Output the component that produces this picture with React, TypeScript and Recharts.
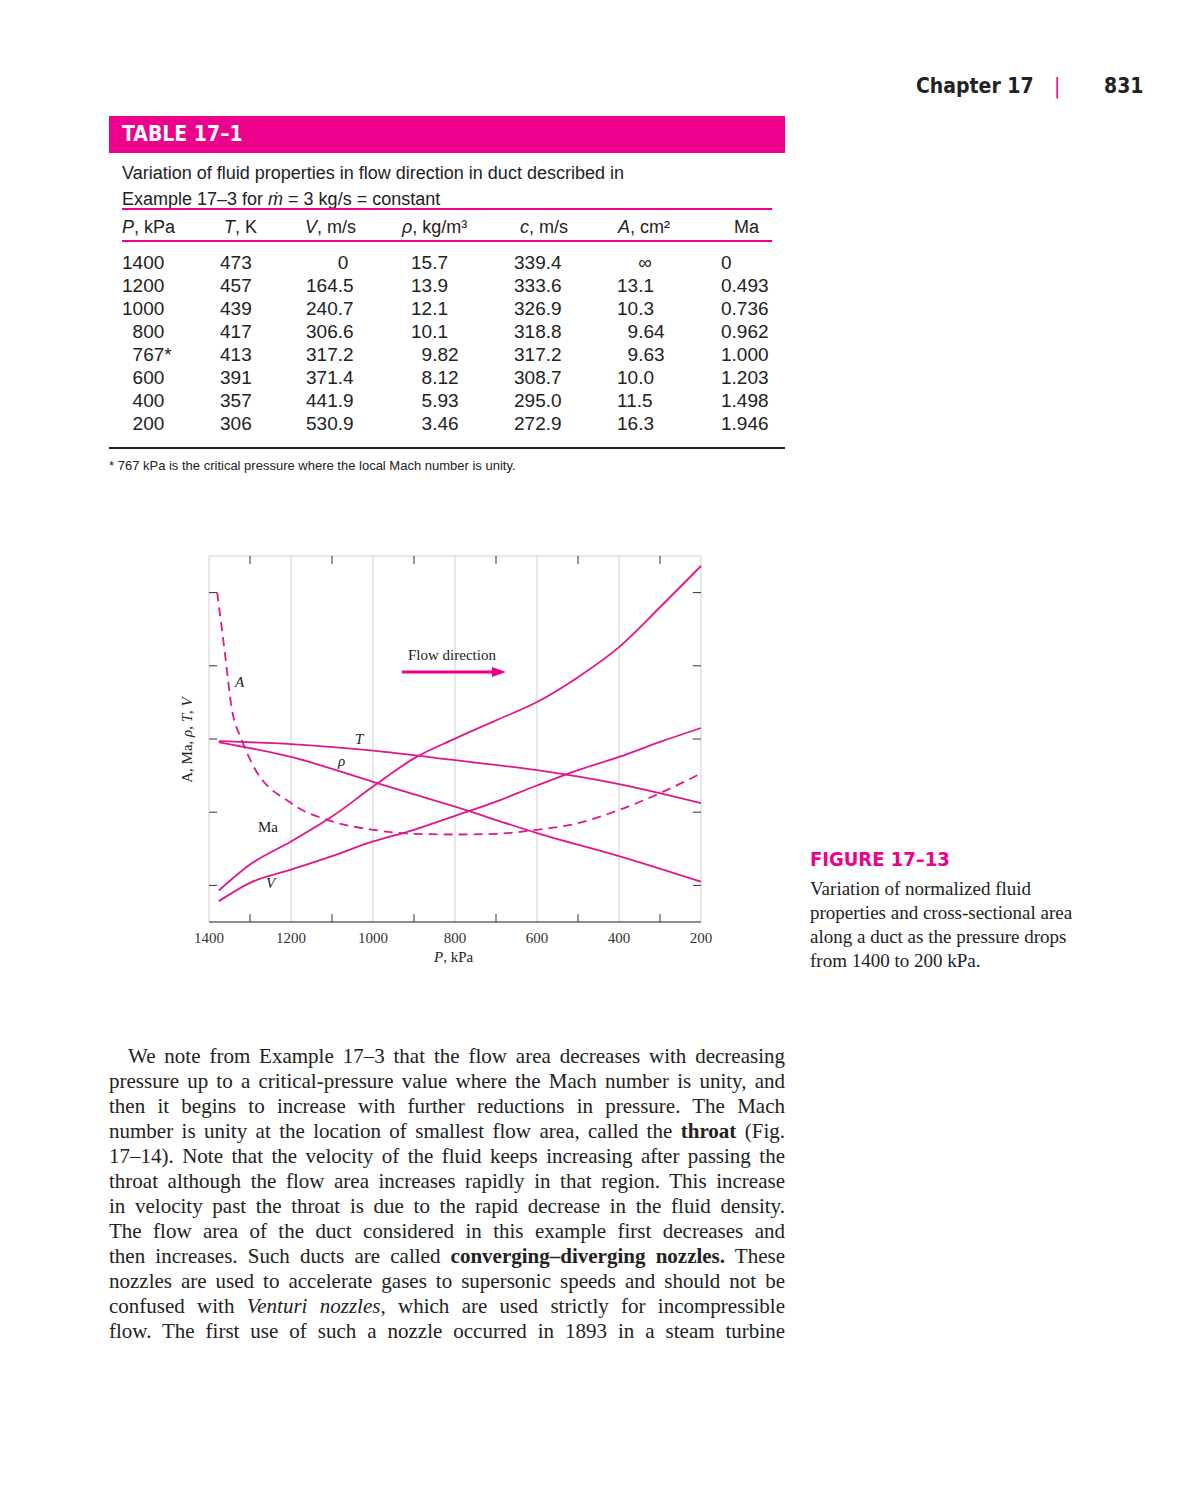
import React from "react";
import { LineChart, Line, XAxis, YAxis, CartesianGrid, ReferenceLine } from "recharts";

const PINK = "#EC008C";
const LINE = "#E0168C";

// table 17-1
const tableHeaders = ["P, kPa", "T, K", "V, m/s", "ρ, kg/m³", "c, m/s", "A, cm²", "Ma"];
const colPressure = ["1400", "1200", "1000", "\u2007800", "\u2007767*", "\u2007600", "\u2007400", "\u2007200"];
const colTemp = ["473", "457", "439", "417", "413", "391", "357", "306"];
const colVel = ["\u2007\u2007\u20070", "164.5", "240.7", "306.6", "317.2", "371.4", "441.9", "530.9"];
const colDensity = ["15.7", "13.9", "12.1", "10.1", "\u20079.82", "\u20078.12", "\u20075.93", "\u20073.46"];
const colSound = ["339.4", "333.6", "326.9", "318.8", "317.2", "308.7", "295.0", "272.9"];
const colArea = ["\u2007\u2007∞", "13.1", "10.3", "\u20079.64", "\u20079.63", "10.0", "11.5", "16.3"];
const colMach = ["0", "0.493", "0.736", "0.962", "1.000", "1.203", "1.498", "1.946"];
const colLeft = [122, 220, 306, 411, 514, 617, 721];
const headerLeft = [122, 224, 305, 402, 520, 618, 734];

// figure 17-13, normalized values
const xTicks = [1400, 1200, 1000, 800, 600, 400, 200];
const yGrid = [0, 2, 4, 6, 8, 10];
const minorX = [1300, 1100, 900, 700, 500, 300];
const minorY = [1, 3, 5, 7, 9];

const machPts = [
  { p: 1376, v: 0.86 }, { p: 1300, v: 1.57 }, { p: 1200, v: 2.2 }, { p: 1100, v: 2.88 },
  { p: 1000, v: 3.7 }, { p: 900, v: 4.47 }, { p: 800, v: 5.01 }, { p: 700, v: 5.51 },
  { p: 600, v: 6.01 }, { p: 500, v: 6.69 }, { p: 400, v: 7.51 }, { p: 300, v: 8.6 }, { p: 200, v: 9.73 },
];
const velPts = [
  { p: 1376, v: 0.57 }, { p: 1300, v: 1.07 }, { p: 1200, v: 1.43 }, { p: 1100, v: 1.8 },
  { p: 1000, v: 2.2 }, { p: 900, v: 2.52 }, { p: 800, v: 2.9 }, { p: 700, v: 3.29 },
  { p: 600, v: 3.73 }, { p: 500, v: 4.15 }, { p: 400, v: 4.51 }, { p: 300, v: 4.92 }, { p: 200, v: 5.3 },
];
const tempPts = [
  { p: 1376, v: 4.94 }, { p: 1200, v: 4.86 }, { p: 1000, v: 4.68 }, { p: 800, v: 4.42 },
  { p: 600, v: 4.15 }, { p: 400, v: 3.77 }, { p: 200, v: 3.25 },
];
const rhoPts = [
  { p: 1376, v: 4.91 }, { p: 1200, v: 4.51 }, { p: 1000, v: 3.83 }, { p: 800, v: 3.15 },
  { p: 600, v: 2.43 }, { p: 400, v: 1.8 }, { p: 200, v: 1.1 },
];
const areaPts = [
  { p: 1380, v: 9.0 }, { p: 1362, v: 7.42 }, { p: 1345, v: 5.87 }, { p: 1320, v: 4.97 },
  { p: 1295, v: 4.33 }, { p: 1200, v: 3.25 }, { p: 1100, v: 2.75 }, { p: 1000, v: 2.52 },
  { p: 900, v: 2.41 }, { p: 800, v: 2.39 }, { p: 700, v: 2.41 }, { p: 600, v: 2.52 },
  { p: 500, v: 2.7 }, { p: 400, v: 3.06 }, { p: 300, v: 3.52 }, { p: 200, v: 4.06 },
];

const bodyLines = [
  "We note from Example 17–3 that the flow area decreases with decreasing",
  "pressure up to a critical-pressure value where the Mach number is unity, and",
  "then it begins to increase with further reductions in pressure. The Mach",
  "number is unity at the location of smallest flow area, called the <b>throat</b> (Fig.",
  "17–14). Note that the velocity of the fluid keeps increasing after passing the",
  "throat although the flow area increases rapidly in that region. This increase",
  "in velocity past the throat is due to the rapid decrease in the fluid density.",
  "The flow area of the duct considered in this example first decreases and",
  "then increases. Such ducts are called <b>converging–diverging nozzles.</b> These",
  "nozzles are used to accelerate gases to supersonic speeds and should not be",
  "confused with <i>Venturi nozzles,</i> which are used strictly for incompressible",
  "flow. The first use of such a nozzle occurred in 1893 in a steam turbine",
];

const captionLines = [
  "Variation of normalized fluid",
  "properties and cross-sectional area",
  "along a duct as the pressure drops",
  "from 1400 to 200 kPa.",
];

const sans = "'Liberation Sans', Arial, sans-serif";
const cond = "'DejaVu Sans Condensed', 'Liberation Sans Narrow', sans-serif";
const serif = "'Liberation Serif', 'Times New Roman', serif";

const abs = (left: number, top: number, extra: React.CSSProperties = {}): React.CSSProperties => ({
  position: "absolute", left, top, whiteSpace: "nowrap", ...extra,
});

function Header(h: string) {
  const [sym, rest] = [h.split(",")[0], h.slice(h.indexOf(","))];
  return (
    <>
      {sym === "Ma" ? "Ma" : <i>{sym}</i>}
      {sym === "Ma" ? "" : rest}
    </>
  );
}

function Chart() {
  const series = [
    { id: "ma", data: machPts, dash: undefined },
    { id: "v", data: velPts, dash: undefined },
    { id: "t", data: tempPts, dash: undefined },
    { id: "rho", data: rhoPts, dash: undefined },
    { id: "a", data: areaPts, dash: "9 6" },
  ];
  return (
    <div style={abs(150, 540)}>
      <LineChart width={600} height={450} margin={{ top: 16, right: 49, left: 59, bottom: 38 }}>
        <CartesianGrid stroke="#cfcfcf" verticalPoints={undefined} />
        <XAxis
          dataKey="p" type="number" domain={[200, 1400]} reversed ticks={xTicks} allowDuplicatedCategory={false}
          tickLine={false} axisLine={{ stroke: "#333" }} height={30}
          tick={{ fill: "#333", fontSize: 15, fontFamily: serif }} tickMargin={4}
        />
        <XAxis xAxisId="top" orientation="top" type="number" domain={[200, 1400]} reversed tick={false} tickLine={false} axisLine={{ stroke: "#333" }} height={0} />
        <YAxis type="number" domain={[0, 10]} ticks={yGrid} tick={false} tickLine={false} axisLine={{ stroke: "#333" }} width={0} />
        <YAxis yAxisId="right" orientation="right" type="number" domain={[0, 10]} tick={false} tickLine={false} axisLine={{ stroke: "#333" }} width={0} />
        {minorX.map((x) => (
          <ReferenceLine key={"b" + x} segment={[{ x, y: 0 }, { x, y: 0.22 }]} stroke="#333" ifOverflow="visible" />
        ))}
        {minorX.map((x) => (
          <ReferenceLine key={"t" + x} segment={[{ x, y: 10 }, { x, y: 9.78 }]} stroke="#333" ifOverflow="visible" />
        ))}
        {minorY.map((y) => (
          <ReferenceLine key={"l" + y} segment={[{ x: 1400, y }, { x: 1380, y }]} stroke="#333" ifOverflow="visible" />
        ))}
        {minorY.map((y) => (
          <ReferenceLine key={"r" + y} segment={[{ x: 200, y }, { x: 220, y }]} stroke="#333" ifOverflow="visible" />
        ))}
        {series.map((s) => (
          <Line
            key={s.id} data={s.data} dataKey="v" type="monotone" stroke={LINE} strokeWidth={1.8}
            strokeDasharray={s.dash} dot={false} isAnimationActive={false}
          />
        ))}
      </LineChart>
    </div>
  );
}

export default function App() {
  const rows = [colPressure, colTemp, colVel, colDensity, colSound, colArea, colMach];
  const label = (t: React.ReactNode, left: number, top: number, italic = true) => (
    <div style={abs(left, top, { fontFamily: serif, fontSize: 15, fontStyle: italic ? "italic" : "normal", color: "#222" })}>{t}</div>
  );
  return (
    <div style={{ position: "absolute", left: 0, top: 0, width: 1191, height: 1503, background: "#fff", color: "#222" }}>
      <div style={abs(916, 74, { fontFamily: cond, fontWeight: "bold", fontSize: 21 })}>Chapter 17</div>
      <div style={abs(1054, 74, { fontFamily: cond, fontSize: 21, color: PINK })}>|</div>
      <div style={abs(1104, 74, { fontFamily: cond, fontWeight: "bold", fontSize: 21 })}>831</div>

      <div style={abs(109, 116, { width: 676, height: 37, background: PINK })} />
      <div style={abs(122, 122, { fontFamily: cond, fontWeight: "bold", fontSize: 21, color: "#fff" })}>TABLE 17–1</div>
      <div style={abs(122, 160, { fontFamily: sans, fontSize: 18, lineHeight: "26px" })}>
        Variation of fluid properties in flow direction in duct described in<br />
        Example 17–3 for <i>ṁ</i> = 3 kg/s = constant
      </div>
      <div style={abs(122, 208, { width: 650, height: 2, background: PINK })} />
      {tableHeaders.map((h, i) => (
        <div key={h} style={abs(headerLeft[i], 217, { fontFamily: sans, fontSize: 18 })}>{Header(h)}</div>
      ))}
      <div style={abs(122, 240, { width: 650, height: 2, background: PINK })} />
      {rows.map((col, c) =>
        col.map((v, r) => (
          <div key={c + "-" + r} style={abs(colLeft[c], 252 + r * 23, { fontFamily: sans, fontSize: 19 })}>{v}</div>
        ))
      )}
      <div style={abs(109, 447, { width: 676, height: 2, background: "#222" })} />
      <div style={abs(109, 458, { fontFamily: sans, fontSize: 13 })}>* 767 kPa is the critical pressure where the local Mach number is unity.</div>

      <Chart />
      <div style={abs(187, 740, { fontFamily: serif, fontSize: 15, transform: "translate(-50%, -50%) rotate(-90deg)" })}>
        A, Ma, <i>ρ</i>, <i>T</i>, <i>V</i>
      </div>
      <div style={abs(434, 949, { fontFamily: serif, fontSize: 15 })}><i>P</i>, kPa</div>
      {label("A", 235, 674)}
      {label("T", 355, 731)}
      {label("ρ", 338, 753)}
      {label("Ma", 258, 819, false)}
      {label("V", 266, 875)}
      <div style={abs(408, 647, { fontFamily: serif, fontSize: 15 })}>Flow direction</div>
      <svg style={abs(400, 665)} width={110} height={14}>
        <line x1={2} y1={7} x2={94} y2={7} stroke={PINK} strokeWidth={3} />
        <polygon points="92,2 106,7 92,12" fill={PINK} />
      </svg>

      <div style={abs(810, 847, { fontFamily: cond, fontWeight: "bold", fontSize: 20, color: PINK })}>FIGURE 17–13</div>
      {captionLines.map((t, i) => (
        <div key={t} style={abs(810, 878 + i * 24, { fontFamily: serif, fontSize: 19 })}>{t}</div>
      ))}

      {bodyLines.map((t, i) => (
        <div
          key={i}
          style={{
            position: "absolute", left: 109, top: 1044 + i * 25, width: 676, fontFamily: serif, fontSize: 21,
            textAlign: "justify", textAlignLast: "justify", textIndent: i === 0 ? 19 : 0, whiteSpace: "nowrap",
          }}
          dangerouslySetInnerHTML={{ __html: t }}
        />
      ))}
    </div>
  );
}
